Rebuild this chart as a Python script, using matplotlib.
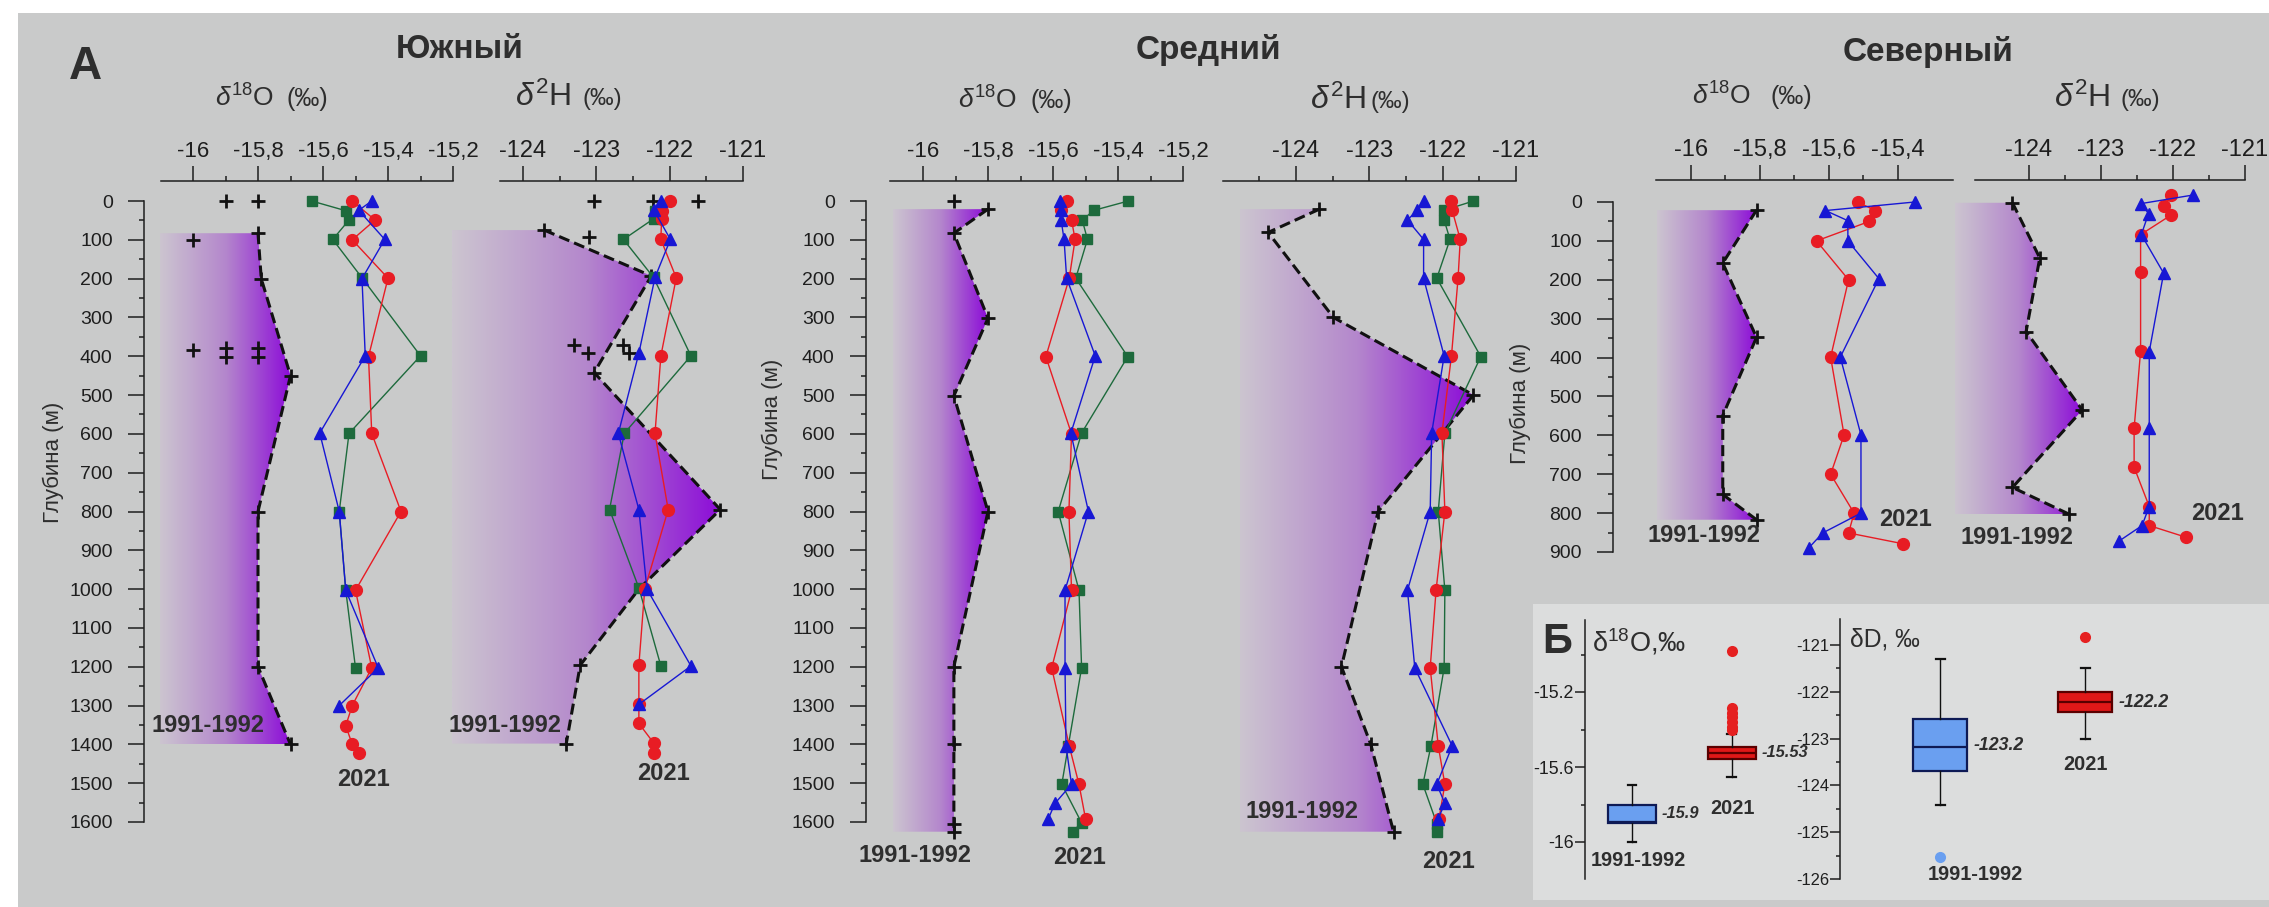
import numpy as np
import matplotlib
matplotlib.use('Agg')
import matplotlib.pyplot as plt
from matplotlib.colors import LinearSegmentedColormap
from matplotlib.patches import Polygon, Rectangle
from matplotlib import font_manager

plt.rcParams['font.family'] = ['Liberation Sans', 'DejaVu Sans']
plt.rcParams['mathtext.fontset'] = 'custom'
plt.rcParams['mathtext.rm'] = 'Liberation Sans'
plt.rcParams['mathtext.it'] = 'Liberation Sans:italic'
plt.rcParams['mathtext.bf'] = 'Liberation Sans:bold'

# ---------------- data: Южный ----------------
s_o18_line_x = [-15.80, -15.79, -15.70, -15.80, -15.80, -15.70]
s_o18_line_d = [83, 200, 450, 800, 1200, 1400]
s_o18_old_x = [-15.90, -15.80, -16.00, -15.80, -15.79, -16.00, -15.90, -15.90, -15.80, -15.80, -15.70, -15.80, -15.80, -15.70]
s_o18_old_d = [0, 0, 100, 83, 200, 385, 380, 402, 380, 402, 450, 800, 1200, 1400]
s_o18_red_x = [-15.51, -15.44, -15.51, -15.40, -15.46, -15.45, -15.36, -15.50, -15.45, -15.51, -15.53, -15.51, -15.49]
s_o18_red_d = [0, 49, 100, 199, 401, 599, 800, 1003, 1203, 1300, 1352, 1400, 1421]
s_o18_grn_x = [-15.635, -15.53, -15.52, -15.57, -15.48, -15.30, -15.52, -15.55, -15.53, -15.50]
s_o18_grn_d = [0, 25, 49, 99, 198, 399, 599, 800, 1003, 1203]
s_o18_blu_x = [-15.45, -15.49, -15.41, -15.48, -15.47, -15.61, -15.55, -15.53, -15.43, -15.55]
s_o18_blu_d = [0, 24, 99, 200, 399, 598, 800, 1003, 1203, 1300]

s_h2_line_x = [-123.71, -122.25, -123.03, -121.31, -122.42, -123.22, -123.41]
s_h2_line_d = [75, 193, 442, 795, 1000, 1196, 1398]
s_h2_old_x = [-123.03, -122.23, -121.62, -123.71, -123.10, -122.25, -123.30, -123.11, -122.63, -122.55, -123.03, -121.31, -123.22, -123.41]
s_h2_old_d = [0, 0, 0, 75, 94, 193, 371, 391, 372, 392, 442, 795, 1196, 1398]
s_h2_red_x = [-122.00, -122.11, -122.11, -122.12, -121.91, -122.12, -122.20, -122.02, -122.34, -122.42, -122.42, -122.42, -122.22, -122.22]
s_h2_red_d = [0, 25, 46, 99, 198, 399, 599, 795, 1000, 1196, 1297, 1346, 1396, 1421]
s_h2_grn_x = [-122.20, -122.22, -122.63, -122.22, -121.71, -122.62, -122.82, -122.42, -122.12]
s_h2_grn_d = [25, 46, 99, 197, 399, 599, 795, 997, 1198]
s_h2_blu_x = [-122.12, -122.22, -121.99, -122.20, -122.42, -122.70, -122.42, -122.31, -121.71, -122.42]
s_h2_blu_d = [0, 22, 99, 197, 392, 599, 795, 1000, 1198, 1297]

# ---------------- data: Средний ----------------
m_o18_line_x = [-15.80, -15.905, -15.80, -15.905, -15.80, -15.905, -15.905, -15.905]
m_o18_line_d = [21, 83, 302, 502, 800, 1200, 1400, 1625]
m_o18_old_x = [-15.905, -15.80, -15.905, -15.80, -15.905, -15.80, -15.905, -15.905, -15.905, -15.905]
m_o18_old_d = [0, 21, 83, 302, 502, 800, 1200, 1400, 1604, 1625]
m_o18_red_x = [-15.558, -15.575, -15.543, -15.532, -15.55, -15.622, -15.543, -15.551, -15.543, -15.604, -15.55, -15.52, -15.50]
m_o18_red_d = [0, 24, 49, 99, 199, 401, 600, 800, 1003, 1203, 1404, 1503, 1591]
m_o18_grn_x = [-15.368, -15.474, -15.51, -15.494, -15.53, -15.37, -15.512, -15.584, -15.52, -15.512, -15.553, -15.573, -15.512, -15.54]
m_o18_grn_d = [0, 24, 49, 99, 199, 401, 598, 800, 1003, 1203, 1404, 1503, 1602, 1625]
m_o18_blu_x = [-15.578, -15.575, -15.575, -15.566, -15.558, -15.47, -15.545, -15.491, -15.563, -15.563, -15.56, -15.543, -15.594, -15.614]
m_o18_blu_d = [0, 24, 49, 99, 199, 399, 598, 800, 1003, 1203, 1404, 1503, 1552, 1591]

m_h2_line_x = [-123.68, -124.38, -123.49, -121.58, -122.88, -123.38, -122.98, -122.67]
m_h2_line_d = [21, 81, 300, 500, 800, 1200, 1400, 1625]
m_h2_red_x = [-121.88, -121.87, -121.76, -121.79, -121.88, -122.01, -121.97, -122.09, -122.17, -122.06, -121.97, -122.05]
m_h2_red_d = [0, 24, 99, 199, 399, 598, 800, 1003, 1203, 1404, 1503, 1591]
m_h2_grn_x = [-121.58, -121.98, -121.98, -121.90, -122.08, -121.48, -121.97, -122.06, -121.97, -121.98, -122.16, -122.27, -122.08, -122.08]
m_h2_grn_d = [0, 24, 49, 99, 199, 401, 598, 800, 1003, 1203, 1404, 1503, 1604, 1625]
m_h2_blu_x = [-122.26, -122.35, -122.48, -122.26, -122.26, -121.98, -122.15, -122.17, -122.48, -122.38, -121.87, -122.08, -121.97, -122.06]
m_h2_blu_d = [0, 24, 49, 99, 199, 399, 598, 800, 1003, 1203, 1404, 1503, 1552, 1591]

# ---------------- data: Северный ----------------
n_o18_line_x = [-15.809, -15.907, -15.809, -15.907, -15.907, -15.809]
n_o18_line_d = [21, 157, 348, 549, 752, 817]
n_o18_red_x = [-15.516, -15.464, -15.482, -15.635, -15.542, -15.594, -15.555, -15.594, -15.526, -15.542, -15.383]
n_o18_red_d = [0, 22, 50, 100, 200, 399, 599, 700, 800, 851, 879]
n_o18_blu_x = [-15.350, -15.609, -15.544, -15.544, -15.454, -15.566, -15.506, -15.506, -15.617, -15.658]
n_o18_blu_d = [0, 22, 48, 100, 197, 399, 599, 800, 851, 890]

n_h2_line_x = [-124.23, -123.85, -124.04, -123.26, -124.23, -123.44]
n_h2_line_d = [20, 162, 351, 553, 752, 821]
n_h2_red_x = [-122.03, -122.13, -122.03, -122.45, -122.45, -122.45, -122.54, -122.54, -122.33, -122.33, -121.82]
n_h2_red_d = [0, 27, 52, 102, 199, 401, 600, 700, 801, 850, 880]
n_h2_blu_x = [-121.72, -122.44, -122.34, -122.44, -122.13, -122.33, -122.33, -122.33, -122.43, -122.75]
n_h2_blu_d = [0, 22, 48, 102, 201, 403, 600, 801, 850, 890]

# ---------------- data: inset Б (box statistics) ----------------
box_groups = ['1991-1992', '2021']
o18_q1 = [-15.898, -15.557]
o18_q3 = [-15.800, -15.493]
o18_med = [-15.895, -15.526]
o18_lo = [-16.00, -15.654]
o18_hi = [-15.694, -15.426]
o18_fliers = [[], [-14.98, -15.285, -15.31, -15.335, -15.36, -15.385, -15.40]]
o18_med_text = ['-15.9', '-15.53']
dd_q1 = [-123.70, -122.44]
dd_q3 = [-122.59, -122.01]
dd_med = [-123.18, -122.21]
dd_lo = [-124.42, -123.01]
dd_hi = [-121.29, -121.50]
dd_fliers = [[-125.52], [-120.82]]
dd_med_text = ['-123.2', '-122.2']

o18_ticks = [-16, -15.8, -15.6, -15.4, -15.2]
o18_labels = ['-16', '-15,8', '-15,6', '-15,4', '-15,2']
h2_ticks = [-124, -123, -122, -121]
h2_labels = ['-124', '-123', '-122', '-121']

# ---------------- styling ----------------
INK = '#1e1e1e'
TXT = '#2e2e2e'
RED, GRN, BLU = '#e81c24', '#1d6a3c', '#1717d4'
lilac = LinearSegmentedColormap.from_list('lilac', ['#ccc5d0', '#b487cc', '#8c0cd8'])

try:
    font_manager.findfont('Liberation Sans Narrow', fallback_to_default=False)
    NARROW, nf = ['Liberation Sans Narrow', 'DejaVu Sans'], 1.0
except ValueError:
    NARROW, nf = ['Liberation Sans', 'DejaVu Sans'], 0.85

W, H = 2269, 907
fig = plt.figure(figsize=(W / 100, H / 100), dpi=100)
fig.patch.set_facecolor('white')
fig.add_artist(Rectangle((18 / W, 0), 1, 1 - 13 / H, transform=fig.transFigure,
                         facecolor='#c9caca', edgecolor='none', zorder=-10))
fig.add_artist(Rectangle((1533 / W, 1 - 900 / H), (W - 1533) / W, (900 - 604) / H,
                         transform=fig.transFigure, facecolor='#dcdddd', edgecolor='none', zorder=-9))


def ftext(x, y, s, **kw):
    kw.setdefault('color', TXT)
    return fig.text(x / W, 1 - y / H, s, **kw)


def lin(ref, p):
    (v1, p1), (v2, p2) = ref
    return v1 + (p - p1) * (v2 - v1) / (p2 - p1)


def px_axes(L, R, T, B):
    ax = fig.add_axes([L / W, 1 - B / H, (R - L) / W, (B - T) / H])
    ax.patch.set_visible(False)
    for s in ax.spines.values():
        s.set_visible(False)
        s.set_color(INK)
        s.set_linewidth(1.1)
    return ax


def profile_axes(box, xref, dref, xspan, ticks, labels, minor, fs, depth_max=None):
    L, R, T, B = box
    ax = px_axes(L, R, T, B)
    ax.set_xlim(lin(xref, L), lin(xref, R))
    ax.set_ylim(lin(dref, B), lin(dref, T))
    ax.spines['top'].set_visible(True)
    ax.spines['top'].set_bounds(*xspan)
    ax.xaxis.tick_top()
    ax.set_xticks(ticks, labels)
    ax.set_xticks(minor, minor=True)
    ax.tick_params(axis='x', which='major', length=10.5, width=1.1, pad=3, labelsize=fs, colors=INK)
    ax.tick_params(axis='x', which='minor', length=3.5, width=1.1, colors=INK)
    if depth_max:
        ax.spines['left'].set_visible(True)
        ax.spines['left'].set_bounds(0, depth_max)
        ax.set_yticks(range(0, depth_max + 1, 100))
        ax.set_yticks(range(50, depth_max, 100), minor=True)
        ax.tick_params(axis='y', which='major', length=11.5, width=1.1, pad=11, labelsize=14, colors=INK)
        ax.tick_params(axis='y', which='minor', length=3.5, width=1.1, colors=INK)
    else:
        ax.set_yticks([])
    return ax


def old_profile(ax, lx, ld, px, pd, xleft):
    verts = [(xleft, ld[0])] + list(zip(lx, ld)) + [(xleft, ld[-1])]
    poly = Polygon(verts, closed=True, facecolor='none', edgecolor='none')
    ax.add_patch(poly)
    im = ax.imshow(np.linspace(0, 1, 256).reshape(1, -1), cmap=lilac, aspect='auto',
                   extent=(xleft, max(lx), ld[-1], ld[0]), zorder=1, interpolation='bilinear')
    im.set_clip_path(poly)
    ax.plot(lx, ld, color='#111111', lw=2.2, dashes=(3.6, 1.7), zorder=3, clip_on=False)
    ax.plot(px, pd, ls='none', marker='+', ms=10, mew=2, color='#111111', zorder=4, clip_on=False)


def new_series(ax, x, d, color, marker, ms):
    ax.plot(x, d, color=color, lw=1.0, marker=marker, ms=ms, mfc=color, mec=color,
            zorder=5, clip_on=False)


# ---------------- Южный ----------------
dref_main = ((0, 201), (1600, 822))
xr = ((-16, 193), (-15.2, 453))
ax = profile_axes((144, 456, 181, 880), xr, dref_main, (-16.1, -15.2), o18_ticks, o18_labels,
                  [-15.9, -15.7, -15.5, -15.3], 16, 1600)
old_profile(ax, s_o18_line_x, s_o18_line_d, s_o18_old_x, s_o18_old_d, lin(xr, 160))
new_series(ax, s_o18_grn_x, s_o18_grn_d, GRN, 's', 7.5)
new_series(ax, s_o18_red_x, s_o18_red_d, RED, 'o', 8.5)
new_series(ax, s_o18_blu_x, s_o18_blu_d, BLU, '^', 8)

xr = ((-124, 523), (-121, 743))
ax = profile_axes((445, 746, 181, 880), xr, dref_main, (-124.31, -121), h2_ticks, h2_labels,
                  [-123.5, -122.5, -121.5], 17)
old_profile(ax, s_h2_line_x, s_h2_line_d, s_h2_old_x, s_h2_old_d, lin(xr, 452))
new_series(ax, s_h2_grn_x, s_h2_grn_d, GRN, 's', 7.5)
new_series(ax, s_h2_red_x, s_h2_red_d, RED, 'o', 8.5)
new_series(ax, s_h2_blu_x, s_h2_blu_d, BLU, '^', 8)

# ---------------- Средний ----------------
xr = ((-16, 923), (-15.2, 1183))
ax = profile_axes((866, 1186, 181, 880), xr, dref_main, (-16.1, -15.2), o18_ticks, o18_labels,
                  [-15.9, -15.7, -15.5, -15.3], 16, 1600)
old_profile(ax, m_o18_line_x, m_o18_line_d, m_o18_old_x, m_o18_old_d, lin(xr, 893))
new_series(ax, m_o18_grn_x, m_o18_grn_d, GRN, 's', 7.5)
new_series(ax, m_o18_red_x, m_o18_red_d, RED, 'o', 8.5)
new_series(ax, m_o18_blu_x, m_o18_blu_d, BLU, '^', 8)

xr = ((-124, 1296), (-121, 1516))
ax = profile_axes((1220, 1520, 181, 880), xr, dref_main, (-125, -121), h2_ticks, h2_labels,
                  [-124.5, -123.5, -122.5, -121.5], 17)
old_profile(ax, m_h2_line_x, m_h2_line_d, m_h2_line_x, m_h2_line_d, lin(xr, 1240))
new_series(ax, m_h2_grn_x, m_h2_grn_d, GRN, 's', 7.5)
new_series(ax, m_h2_red_x, m_h2_red_d, RED, 'o', 8.5)
new_series(ax, m_h2_blu_x, m_h2_blu_d, BLU, '^', 8)

# ---------------- Северный ----------------
xr = ((-16, 1690.7), (-15.4, 1897.5))
ax = profile_axes((1613, 1945, 180, 600), xr, ((0, 202), (900, 552)), (-16.1, -15.24),
                  o18_ticks[:4], o18_labels[:4], [-15.9, -15.7, -15.5], 17, 900)
old_profile(ax, n_o18_line_x, n_o18_line_d, n_o18_line_x, n_o18_line_d, lin(xr, 1657))
new_series(ax, n_o18_red_x, n_o18_red_d, RED, 'o', 8.5)
new_series(ax, n_o18_blu_x, n_o18_blu_d, BLU, '^', 8)

xr = ((-124, 2029), (-121, 2245))
ax = profile_axes((1950, 2269, 180, 600), xr, ((0, 195), (900, 545)), (lin(xr, 1975), -121),
                  h2_ticks, h2_labels, [-123.5, -122.5, -121.5], 17)
old_profile(ax, n_h2_line_x, n_h2_line_d, n_h2_line_x, n_h2_line_d, lin(xr, 1955))
new_series(ax, n_h2_red_x, n_h2_red_d, RED, 'o', 8.5)
new_series(ax, n_h2_blu_x, n_h2_blu_d, BLU, '^', 8)

# ---------------- panel texts ----------------
ftext(85, 67, 'А', fontsize=33, fontweight='bold', ha='center', va='center')
for x, y, s in [(460, 50, 'Южный'), (1208, 50, 'Средний'), (1928, 52, 'Северный')]:
    ftext(x, y, s, fontsize=24, fontweight='bold', ha='center', va='center')

for x, xp, y in [(215, 287, 98), (958, 1030, 100), (1692, 1770, 96)]:
    ftext(x, y, r'$\delta^{18}$O', fontsize=19, ha='left', va='center')
    ftext(xp, y + 1, '(‰)', fontsize=18, ha='left', va='center')
for x, xp, y in [(515, 582, 97), (1310, 1370, 100), (2054, 2121, 98)]:
    ftext(x, y, r'$\delta^{2}$H', fontsize=23, ha='left', va='center')
    ftext(xp, y + 2, '(‰)', fontsize=17, ha='left', va='center')

for x, y in [(53, 462), (772, 419), (1520, 403)]:
    ftext(x, y, 'Глубина (м)', fontsize=16, rotation=90, ha='center', va='center')

for x, y, s in [(208, 726, '1991-1992'), (364, 780, '2021'),
                (505, 725, '1991-1992'), (664, 774, '2021'),
                (915, 856, '1991-1992'), (1080, 857, '2021'),
                (1302, 811, '1991-1992'), (1449, 861, '2021'),
                (1704, 536, '1991-1992'), (1905, 519, '2021'),
                (2017, 537, '1991-1992'), (2217, 514, '2021')]:
    ftext(x, y, s, fontsize=17, fontweight='bold', ha='center', va='center')


# ---------------- inset Б ----------------
def box_axes(L, R, T, B, yref, p1, p2, width_px, q1, q3, med, lo, hi, fliers, fills, edges):
    ax = px_axes(L, R, T, B)
    k = 1.0 / (p2 - p1)
    ax.set_xlim(1 + (L - p1) * k, 1 + (R - p1) * k)
    ax.set_ylim(lin(yref, B), lin(yref, T))
    stats = [dict(med=med[i], q1=q1[i], q3=q3[i], whislo=lo[i], whishi=hi[i],
                  fliers=fliers[i], label=box_groups[i]) for i in range(2)]
    art = ax.bxp(stats, positions=[1, 2], widths=width_px * k, patch_artist=True,
                 manage_ticks=False, capwidths=9 * k,
                 whiskerprops=dict(color='#111111', lw=1.0),
                 capprops=dict(color='#111111', lw=1.6),
                 flierprops=dict(marker='o', markersize=8, markeredgecolor='none'))
    for i in range(2):
        art['boxes'][i].set_facecolor(fills[i])
        art['boxes'][i].set_edgecolor(edges[i])
        art['boxes'][i].set_linewidth(1.6)
        art['medians'][i].set_color(edges[i])
        art['medians'][i].set_linewidth(1.6)
        art['fliers'][i].set_markerfacecolor(fills[i] if i == 0 else '#e52020')
    ax.spines['left'].set_visible(True)
    ax.set_xticks([])
    return ax


yr = ((-15.2, 692), (-16, 842))
ax = box_axes(1585, 1810, 620, 879, yr, 1632, 1732, 48, o18_q1, o18_q3, o18_med, o18_lo, o18_hi,
              o18_fliers, ['#6a9ff0', '#e01818'], ['#0e1a55', '#5a0000'])
ax.set_yticks([-15.2, -15.6, -16], ['-15.2', '-15.6', '-16'])
ax.set_yticks([-15.0, -15.4, -15.8], minor=True)
ax.tick_params(axis='y', which='major', length=7, width=1.1, pad=1, labelsize=15 * nf, colors=INK)
ax.tick_params(axis='y', which='minor', length=3, width=1.1, colors=INK)
for i in range(2):
    ax.annotate(o18_med_text[i], (1 + i, (o18_q1[i] + o18_q3[i]) / 2), xytext=(21, 0),
                textcoords='offset points', fontsize=14 * nf, fontweight='bold', fontstyle='italic',
                family=NARROW, va='center', ha='left', color=TXT)

yr = ((-121, 645), (-126, 879))
ax = box_axes(1840, 2269, 619, 879, yr, 1940, 2085, 54, dd_q1, dd_q3, dd_med, dd_lo, dd_hi,
              dd_fliers, ['#6a9ff0', '#e01818'], ['#0e1a55', '#5a0000'])
ax.set_yticks([-121, -122, -123, -124, -125, -126], ['-121', '-122', '-123', '-124', '-125', '-126'])
ax.set_yticks([-121.5, -122.5, -123.5, -124.5, -125.5], minor=True)
ax.tick_params(axis='y', which='major', length=7, width=1.1, pad=1, labelsize=14 * nf, colors=INK)
ax.tick_params(axis='y', which='minor', length=3, width=1.1, colors=INK)
for i in range(2):
    ax.annotate(dd_med_text[i], (1 + i, (dd_q1[i] + dd_q3[i]) / 2), xytext=(24, 0),
                textcoords='offset points', fontsize=15 * nf, fontweight='bold', fontstyle='italic',
                family=NARROW, va='center', ha='left', color=TXT)

ftext(1557, 642, 'Б', fontsize=30, fontweight='bold', ha='center', va='center')
ftext(1592, 642, r'δ$^{18}$O,‰', fontsize=23 * nf, family=NARROW, ha='left', va='center')
ftext(1850, 640, 'δD, ‰', fontsize=21 * nf, family=NARROW, ha='left', va='center')
for x, y, s in [(1638, 860, '1991-1992'), (1732, 808, '2021'),
                (1975, 875, '1991-1992'), (2085, 765, '2021')]:
    ftext(x, y, s, fontsize=17 * nf, fontweight='bold', family=NARROW, ha='center', va='center')

fig.savefig('out.png', dpi=100, facecolor=fig.get_facecolor())
